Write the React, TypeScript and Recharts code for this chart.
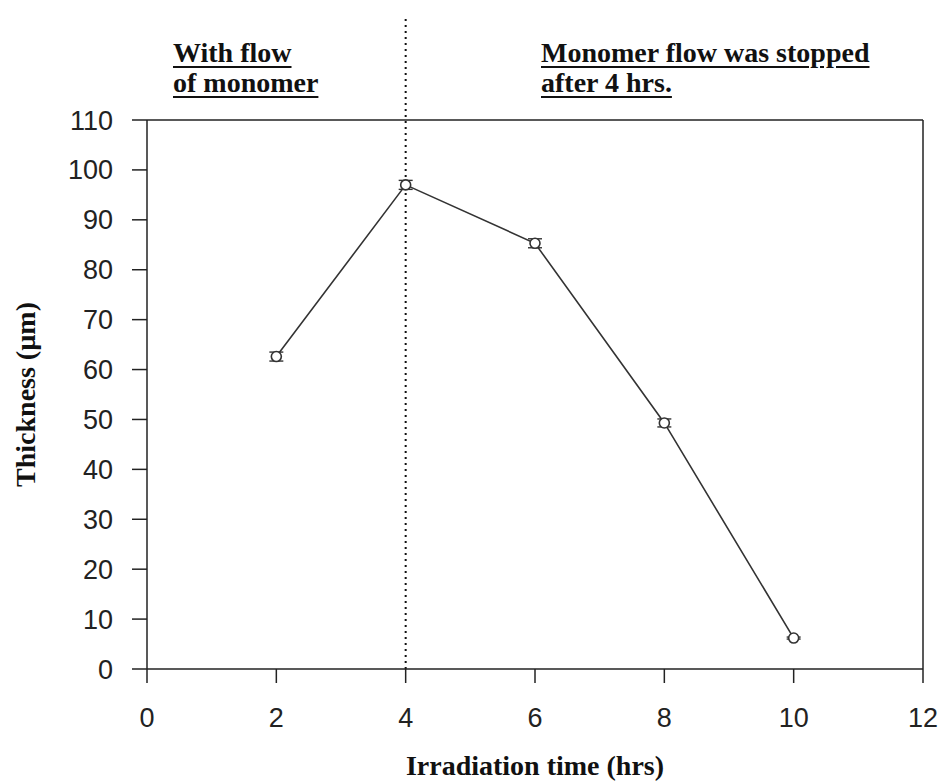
import {
  ComposedChart,
  ErrorBar,
  Line,
  ReferenceLine,
  XAxis,
  YAxis,
} from "recharts";

// irradiation time (hrs) and measured film thickness (µm)
const hours = [2, 4, 6, 8, 10];
const thickness = [62.6, 97.0, 85.3, 49.3, 6.2];
const thicknessErr = [0.9, 0.9, 0.9, 0.8, 0.2];

const X_TICKS = [0, 2, 4, 6, 8, 10, 12];
const Y_TICKS = [0, 10, 20, 30, 40, 50, 60, 70, 80, 90, 100, 110];
const X_DOMAIN: [number, number] = [0, 12];
const Y_DOMAIN: [number, number] = [0, 110];

const FLOW_STOP_HOUR = 4;
const DIVIDER_TOP = 130.5;

const INK = "#222";
const SERIES = "#333";
const SANS = "'Liberation Sans', Arial, sans-serif";
const SERIF = "'Liberation Serif', 'Times New Roman', serif";

const data = hours.map((h, i) => ({
  x: h,
  y: thickness[i],
  err: thicknessErr[i],
}));

const noteStyle = {
  position: "absolute" as const,
  fontFamily: SERIF,
  fontWeight: 700,
  fontSize: 28,
  lineHeight: "30px",
  color: "#111",
  textDecoration: "underline",
  textDecorationThickness: "2px",
  textUnderlineOffset: "4px",
  whiteSpace: "nowrap" as const,
};

export default function App() {
  return (
    <div
      style={{
        position: "absolute",
        left: 0,
        top: 0,
        width: 943,
        height: 782,
        background: "#fff",
      }}
    >
      <ComposedChart
        width={943}
        height={782}
        data={data}
        margin={{ top: 120, right: 20, bottom: 0, left: 0 }}
      >
        <XAxis
          dataKey="x"
          type="number"
          domain={X_DOMAIN}
          ticks={X_TICKS}
          height={113}
          axisLine={{ stroke: INK, strokeWidth: 1.5 }}
          tickLine={{ stroke: INK, strokeWidth: 1.5 }}
          tickSize={14}
          tickMargin={25}
          tick={{ fill: INK, fontSize: 27, fontFamily: SANS }}
          label={{
            value: "Irradiation time (hrs)",
            position: "insideBottom",
            offset: 7,
            fill: "#111",
            fontSize: 28,
            fontWeight: 700,
            fontFamily: SERIF,
          }}
        />
        <YAxis
          type="number"
          domain={Y_DOMAIN}
          ticks={Y_TICKS}
          width={147}
          axisLine={{ stroke: INK, strokeWidth: 1.5 }}
          tickLine={{ stroke: INK, strokeWidth: 1.5 }}
          tickSize={15}
          tickMargin={19}
          tick={{ fill: INK, fontSize: 27, fontFamily: SANS }}
          label={{
            value: "Thickness (\u00b5m)",
            angle: -90,
            position: "insideLeft",
            offset: 25,
            textAnchor: "middle",
            fill: "#111",
            fontSize: 28,
            fontWeight: 700,
            fontFamily: SERIF,
          }}
        />
        {/* top and right frame */}
        <ReferenceLine y={110} stroke={INK} strokeWidth={1.5} />
        <ReferenceLine x={12} stroke={INK} strokeWidth={1.5} />
        <ReferenceLine
          segment={[
            { x: FLOW_STOP_HOUR, y: 0 },
            { x: FLOW_STOP_HOUR, y: DIVIDER_TOP },
          ]}
          ifOverflow="visible"
          stroke="#111"
          strokeWidth={2}
          strokeDasharray="2 4"
        />
        <Line
          dataKey="y"
          type="linear"
          stroke={SERIES}
          strokeWidth={1.6}
          isAnimationActive={false}
          dot={{ r: 5, fill: "#fff", stroke: SERIES, strokeWidth: 1.6 }}
        >
          <ErrorBar
            dataKey="err"
            direction="y"
            width={7}
            stroke={SERIES}
            strokeWidth={1.4}
            isAnimationActive={false}
          />
        </Line>
      </ComposedChart>

      <div style={{ ...noteStyle, left: 173, top: 38 }}>
        With flow
        <br />
        of monomer
      </div>
      <div style={{ ...noteStyle, left: 541, top: 38 }}>
        Monomer flow was stopped
        <br />
        after 4 hrs.
      </div>
    </div>
  );
}
